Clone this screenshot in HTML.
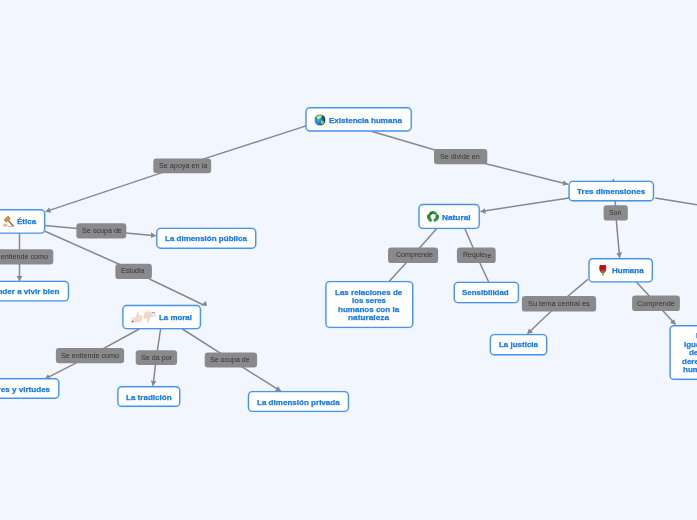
<!DOCTYPE html>
<html><head><meta charset="utf-8">
<style>
html,body{margin:0;padding:0;}
html{width:697px;height:520px;overflow:hidden;}
body{width:697px;height:520px;overflow:hidden;background:#f2f6ff;position:relative;font-family:"Liberation Sans",sans-serif;}
svg.l{position:absolute;left:0;top:0;}
.t{position:absolute;white-space:nowrap;line-height:10px;height:10px;transform-origin:0 0;}
.b{color:#1a79e6;font-weight:bold;font-size:7.7px;-webkit-text-stroke:0.25px #1a79e6;}
.g{color:#343436;font-size:7.6px;}
.tx{position:absolute;left:0;top:0;width:697px;height:520px;overflow:hidden;will-change:transform;}
</style></head><body>
<svg class="l" width="697" height="520" viewBox="0 0 697 520">
<defs><marker id="a" markerWidth="8" markerHeight="8" refX="5.0" refY="2.9" orient="auto" markerUnits="userSpaceOnUse"><path d="M0,0 L5.3,2.9 L0,5.8 Z" fill="#88888a"/></marker></defs>
<g stroke="#88888a" stroke-width="1.5" fill="none" stroke-linejoin="round">
<polyline points="306,125.9 182.2,165.9 45.6,211.6" marker-end="url(#a)"/>
<polyline points="372.1,131.5 460.6,157.5 567.8,184.2" marker-end="url(#a)"/>
<polyline points="45,225.4 101.35,230.85 155.7,235.7" marker-end="url(#a)"/>
<polyline points="45,231.2 136,271.7 150,279.2 186,296.5 203.5,305"/>
<polygon points="205.95,300.9 201.1,305.35 207.0,305.95" fill="#88888a" stroke="none"/>
<polyline points="19.5,232 19.5,281" marker-end="url(#a)"/>
<polyline points="139.3,329 90,355.8 45.0,378.9" marker-end="url(#a)"/>
<polyline points="160.7,328 156.4,357.5 153,385.7" marker-end="url(#a)"/>
<polyline points="182.4,329 230.9,359.95 280.8,391.1" marker-end="url(#a)"/>
<polyline points="569,197.9 480.6,211.6" marker-end="url(#a)"/>
<polyline points="613.3,179 613.3,182"/>
<polyline points="615.2,200 615.7,212.9 619.6,257.6" marker-end="url(#a)"/>
<polyline points="655.2,198 697.5,204.9"/>
<polyline points="436.8,228.5 413.05,255.3 388.6,282"/>
<polyline points="464.8,228.5 476.3,255.3 488.7,282"/>
<polyline points="587.8,279.4 559,303.8 527.4,333.8" marker-end="url(#a)"/>
<polyline points="636.4,282 656,303.3 675.5,324.5" marker-end="url(#a)"/>
</g>

<g fill="#8a8a8c">
<rect x="153.30" y="158.60" width="57.90" height="14.60" rx="3.2"/>
<rect x="434.00" y="149.00" width="53.30" height="15.20" rx="3.2"/>
<rect x="76.40" y="223.20" width="49.90" height="15.30" rx="3.2"/>
<rect x="-14.80" y="249.20" width="68.10" height="15.20" rx="3.2"/>
<rect x="115.40" y="263.70" width="36.50" height="15.40" rx="3.2"/>
<rect x="55.90" y="348.00" width="68.20" height="15.20" rx="3.2"/>
<rect x="135.70" y="350.20" width="41.40" height="14.70" rx="3.2"/>
<rect x="204.70" y="352.50" width="52.40" height="14.90" rx="3.2"/>
<rect x="603.60" y="205.20" width="24.20" height="15.40" rx="3.2"/>
<rect x="388.00" y="247.50" width="50.10" height="15.60" rx="3.2"/>
<rect x="456.90" y="247.50" width="38.80" height="15.60" rx="3.2"/>
<rect x="521.90" y="296.00" width="74.20" height="15.60" rx="3.2"/>
<rect x="632.10" y="295.50" width="47.80" height="15.60" rx="3.2"/>
</g>
<g fill="none" stroke="#4a95ec" stroke-opacity="0.12" stroke-width="2.2">
<rect x="306.00" y="107.80" width="105.20" height="23.20" rx="3.90"/>
<rect x="-7.30" y="209.80" width="51.90" height="23.35" rx="3.90"/>
<rect x="156.80" y="228.40" width="98.90" height="19.80" rx="3.90"/>
<rect x="-39.30" y="281.40" width="107.70" height="19.50" rx="3.90"/>
<rect x="122.90" y="305.50" width="77.50" height="23.10" rx="3.90"/>
<rect x="-29.30" y="378.80" width="88.10" height="19.40" rx="3.90"/>
<rect x="117.90" y="386.70" width="61.80" height="19.60" rx="3.90"/>
<rect x="248.50" y="391.60" width="99.90" height="19.80" rx="3.90"/>
<rect x="419.00" y="204.50" width="60.20" height="23.90" rx="3.90"/>
<rect x="569.10" y="181.40" width="84.30" height="19.40" rx="3.90"/>
<rect x="589.00" y="258.70" width="63.30" height="23.20" rx="3.90"/>
<rect x="325.90" y="281.60" width="86.80" height="45.80" rx="3.90"/>
<rect x="454.30" y="282.40" width="64.10" height="20.20" rx="3.90"/>
<rect x="490.40" y="334.60" width="56.20" height="20.20" rx="3.90"/>
<rect x="670.10" y="325.70" width="60.70" height="53.60" rx="3.90"/>
</g>
<g fill="#fff" stroke="#4a95ec" stroke-width="1.4">
<rect x="306.00" y="107.80" width="105.20" height="23.20" rx="3.90"/>
<rect x="-7.30" y="209.80" width="51.90" height="23.35" rx="3.90"/>
<rect x="156.80" y="228.40" width="98.90" height="19.80" rx="3.90"/>
<rect x="-39.30" y="281.40" width="107.70" height="19.50" rx="3.90"/>
<rect x="122.90" y="305.50" width="77.50" height="23.10" rx="3.90"/>
<rect x="-29.30" y="378.80" width="88.10" height="19.40" rx="3.90"/>
<rect x="117.90" y="386.70" width="61.80" height="19.60" rx="3.90"/>
<rect x="248.50" y="391.60" width="99.90" height="19.80" rx="3.90"/>
<rect x="419.00" y="204.50" width="60.20" height="23.90" rx="3.90"/>
<rect x="569.10" y="181.40" width="84.30" height="19.40" rx="3.90"/>
<rect x="589.00" y="258.70" width="63.30" height="23.20" rx="3.90"/>
<rect x="325.90" y="281.60" width="86.80" height="45.80" rx="3.90"/>
<rect x="454.30" y="282.40" width="64.10" height="20.20" rx="3.90"/>
<rect x="490.40" y="334.60" width="56.20" height="20.20" rx="3.90"/>
<rect x="670.10" y="325.70" width="60.70" height="53.60" rx="3.90"/>
</g>
<svg x="314.4" y="114.35" width="11.2" height="11.3" viewBox="0 0 12 12"><defs><radialGradient id="gl" cx="0.3" cy="0.52" r="0.75"><stop offset="0" stop-color="#2fb2e8"/><stop offset="0.45" stop-color="#1a7ccc"/><stop offset="0.8" stop-color="#0c4590"/><stop offset="1" stop-color="#07265a"/></radialGradient><radialGradient id="gn" cx="0.4" cy="0.45" r="0.7"><stop offset="0" stop-color="#e4f99a"/><stop offset="0.6" stop-color="#bce650"/><stop offset="1" stop-color="#8fc838"/></radialGradient></defs><circle cx="6" cy="6" r="5.95" fill="url(#gl)"/><path d="M2.3,3.3 C2.7,1.7 4.6,0.8 6.2,1.0 C7,1.1 7.7,0.9 8.3,1.5 C8.2,2.5 7.7,3.2 7,3.6 C6.8,4.4 6.3,4.7 5.8,4.5 C5.6,5.3 5,5.9 4.4,5.7 C4.2,4.9 3.7,4.7 3.2,4.5 C2.6,4.3 2.2,3.9 2.3,3.3 Z" fill="url(#gn)"/><path d="M6.8,7.0 C7.6,6.3 9.3,6.5 10.1,7.6 C10.3,8.7 9.7,9.9 8.9,10.7 C8.2,10.9 7.6,10.3 7.4,9.5 C7.0,8.7 6.6,7.8 6.8,7.0 Z" fill="#a2d53a"/></svg>
<svg x="2.0" y="215.8" width="12.6" height="11.6" viewBox="0 0 12.6 11.6"><ellipse cx="3.2" cy="9.75" rx="2.9" ry="1.5" fill="#efe0bf"/><ellipse cx="3.3" cy="9.3" rx="2.1" ry="0.9" fill="#d3b07a"/><path d="M6.6,10.55 L11.6,10.6" stroke="#a9a9ab" stroke-width="0.8" stroke-linecap="round"/><path d="M5.6,3.8 L10.9,10" stroke="#a5672f" stroke-width="1.45" stroke-linecap="round"/><g transform="rotate(-40 5.2 3.3)"><rect x="2.2" y="1.3" width="6" height="4" rx="0.9" fill="#c17c3b"/><rect x="3.7" y="1.3" width="1" height="4" fill="#dba368"/><rect x="5.8" y="1.3" width="1" height="4" fill="#dba368"/></g></svg>
<svg x="131.2" y="310.6" width="24.8" height="12.6" viewBox="0 0 24.8 12.6"><rect x="0.2" y="6.6" width="2.9" height="5" fill="#e6e6ea"/><rect x="0.6" y="10.2" width="1.6" height="1.5" fill="#555"/><path d="M2.9,6.6 L4.6,6.2 L6,1.2 C6.3,0.2 7.6,0.4 7.7,1.6 L7.4,4.6 L10.6,4.8 C11.6,5 11.6,6.4 10.9,6.8 C11.5,7.4 11.3,8.4 10.7,8.8 C11.1,9.5 10.8,10.3 10.1,10.5 C10.2,11.4 9.6,12 8.6,12 L4.6,12 L2.9,11.4 Z" fill="#f3dacb"/><rect x="20.6" y="1.4" width="4" height="5" fill="#e6e6ea"/><rect x="20.8" y="1.4" width="2.6" height="0.9" fill="#999"/><path d="M20.8,6.2 L19.1,6.6 L17.7,11.6 C17.4,12.6 16.1,12.4 16,11.2 L16.3,8.2 L13.1,8 C12.1,7.8 12.1,6.4 12.8,6 C12.2,5.4 12.4,4.4 13,4 C12.6,3.3 12.9,2.5 13.6,2.3 C13.5,1.4 14.1,0.8 15.1,0.8 L19.1,0.8 L20.8,1.4 Z" fill="#f1d6c6"/></svg>
<svg x="426.8" y="210.4" width="12.3" height="11.8" viewBox="0 0 12.3 11.8"><defs><linearGradient id="r1" gradientUnits="userSpaceOnUse" x1="3" y1="0" x2="9.8" y2="0"><stop offset="0" stop-color="#1c6c26"/><stop offset="0.4" stop-color="#227f2e"/><stop offset="0.65" stop-color="#35a642"/><stop offset="1" stop-color="#3fb34c"/></linearGradient><linearGradient id="r2" gradientUnits="userSpaceOnUse" x1="0" y1="4" x2="0" y2="11.4"><stop offset="0" stop-color="#1e7529"/><stop offset="0.45" stop-color="#278c34"/><stop offset="1" stop-color="#3fb34c"/></linearGradient></defs><g fill="none" stroke-linecap="round"><path d="M3.9,3.2 Q4.6,2.0 6.2,2.0 Q8.0,2.0 8.8,3.2" stroke="url(#r1)" stroke-width="3.0"/><path d="M2.0,5.4 Q1.5,7.8 3.7,9.8" stroke="url(#r2)" stroke-width="3.3"/><path d="M10.5,5.8 Q10.8,8.2 8.2,9.8" stroke="url(#r2)" stroke-width="3.3"/></g></svg>
<svg x="598.6" y="264.4" width="8.4" height="11.5" viewBox="0 0 8.4 11.5"><rect x="3.5" y="8.4" width="1.6" height="3" rx="0.5" fill="#7cb84a"/><path d="M1.5,6.8 L6.9,6.8 C6.6,8.3 5.4,9 4.2,9 C3,9 1.8,8.3 1.5,6.8 Z" fill="#4f9a2a"/><path d="M0.9,1.3 C1.2,0.3 2.4,0.2 3,0.8 C3.6,0.1 4.8,0.1 5.4,0.8 C6,0.2 7.2,0.3 7.5,1.3 C7.9,3 7.7,5.6 7,7.1 L1.4,7.1 C0.7,5.6 0.5,3 0.9,1.3 Z" fill="#be1b21"/><path d="M1.5,1.5 C2.4,2.8 3.2,3.7 4.8,4.4 C3.2,4.8 1.9,3.9 1.3,2.5 Z" fill="#6f0c10"/><path d="M4,1.2 C4.9,2.1 5.8,2.5 6.8,2.2 C6.4,3.5 5,3.5 4.1,2.6 Z" fill="#8a1116"/><path d="M2.4,5 C3.4,6 5.2,6 6.4,4.6 C6.2,6 5.4,6.6 4.2,6.6 C3.2,6.6 2.6,6 2.4,5 Z" fill="#d6383d"/></svg>
</svg>
<div class="tx">
<span class="t b" style="left:329.10px;top:116.30px;transform:scaleX(1.0466)">Existencia humana</span>
<span class="t b" style="left:16.90px;top:217.30px;transform:scaleX(1.0395)">Ética</span>
<span class="t b" style="left:164.90px;top:234.30px;transform:scaleX(1.0419)">La dimensión pública</span>
<span class="t b" style="left:-20.53px;top:287.30px;transform:scaleX(1.0502)">Aprender a vivir bien</span>
<span class="t b" style="left:158.80px;top:313.30px;transform:scaleX(1.0266)">La moral</span>
<span class="t b" style="left:-18.62px;top:385.30px;transform:scaleX(1.0502)">Valores y virtudes</span>
<span class="t b" style="left:125.90px;top:393.30px;transform:scaleX(1.0464)">La tradición</span>
<span class="t b" style="left:256.90px;top:398.30px;transform:scaleX(1.0464)">La dimensión privada</span>
<span class="t b" style="left:442.00px;top:213.30px;transform:scaleX(1.0792)">Natural</span>
<span class="t b" style="left:577.00px;top:187.30px;transform:scaleX(1.0500)">Tres dimensiones</span>
<span class="t b" style="left:612.10px;top:266.30px;transform:scaleX(1.0447)">Humana</span>
<span class="t b" style="left:335.25px;top:288.30px;transform:scaleX(1.0421)">Las relaciones de</span>
<span class="t b" style="left:351.75px;top:296.30px;transform:scaleX(1.0182)">los seres</span>
<span class="t b" style="left:337.80px;top:305.30px;transform:scaleX(1.0439)">humanos con la</span>
<span class="t b" style="left:348.20px;top:313.30px;transform:scaleX(1.0781)">naturaleza</span>
<span class="t b" style="left:462.40px;top:288.30px;transform:scaleX(1.0313)">Sensibilidad</span>
<span class="t b" style="left:498.60px;top:340.30px;transform:scaleX(1.0370)">La justicia</span>
<span class="t b" style="left:695.90px;top:331.30px;transform:scaleX(1.0129)">La</span>
<span class="t b" style="left:683.90px;top:340.30px;transform:scaleX(1.0408)">Igualdad</span>
<span class="t b" style="left:688.90px;top:348.30px;transform:scaleX(1.0352)">de los</span>
<span class="t b" style="left:682.20px;top:357.30px;transform:scaleX(1.0413)">derechos</span>
<span class="t b" style="left:682.50px;top:365.30px;transform:scaleX(1.0418)">humanos</span>
<span class="t g" style="left:158.50px;top:161.30px;transform:scaleX(0.9512)">Se apoya en la</span>
<span class="t g" style="left:439.60px;top:152.30px;transform:scaleX(0.9522)">Se divide en</span>
<span class="t g" style="left:81.90px;top:226.30px;transform:scaleX(0.9330)">Se ocupa de</span>
<span class="t g" style="left:-9.60px;top:252.30px;transform:scaleX(0.9474)">Se entiende como</span>
<span class="t g" style="left:120.90px;top:266.30px;transform:scaleX(0.9273)">Estudia</span>
<span class="t g" style="left:61.00px;top:351.30px;transform:scaleX(0.9474)">Se entiende como</span>
<span class="t g" style="left:140.90px;top:353.30px;transform:scaleX(0.9442)">Se da por</span>
<span class="t g" style="left:210.00px;top:355.30px;transform:scaleX(0.9307)">Se ocupa de</span>
<span class="t g" style="left:608.80px;top:208.30px;transform:scaleX(0.9101)">Son</span>
<span class="t g" style="left:395.70px;top:250.30px;transform:scaleX(0.9323)">Comprende</span>
<span class="t g" style="left:462.50px;top:250.30px;transform:scaleX(0.9208)">Requie<span style='position:relative;top:1px'>re</span></span>
<span class="t g" style="left:527.50px;top:299.30px;transform:scaleX(0.9745)">Su tema central es</span>
<span class="t g" style="left:637.00px;top:299.30px;transform:scaleX(0.9499)">Comprende</span>
</div>
</body></html>
